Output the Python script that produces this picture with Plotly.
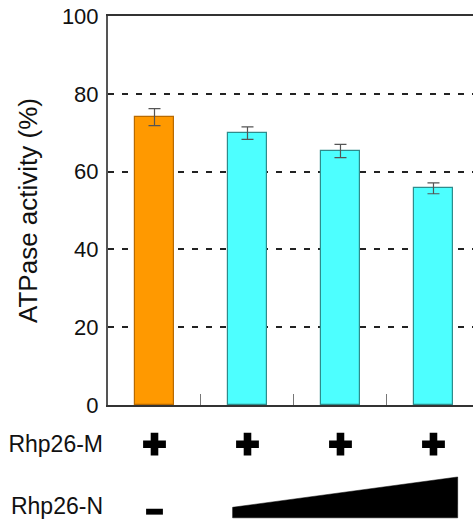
import plotly.graph_objects as go

# Data
conditions = ["1", "2", "3", "4"]
activity = [74.0, 69.9, 65.3, 55.7]
activity_err = [2.2, 1.6, 1.7, 1.4]
bar_colors = ["#FF9900", "#4DFFFF", "#4DFFFF", "#4DFFFF"]
bar_edges = ["#B86A00", "#2E8C8C", "#2E8C8C", "#2E8C8C"]
y_ticks = [0, 20, 40, 60, 80, 100]
row_labels = ["Rhp26-N", "Rhp26-M"]
rhp26_m_present = [1, 1, 1, 1]          # '+' in every lane
rhp26_n_absent_lane = [0]              # '-' lane
wedge_lanes = [0.84, 3.26]             # extent of increasing Rhp26-N
wedge_low = [-0.02, 0.47]              # wedge top edge (relative)
wedge_base = -0.19

xpos = list(range(len(conditions)))

fig = go.Figure()

fig.add_trace(go.Bar(
    x=xpos, y=activity, width=0.41,
    marker=dict(color=bar_colors, line=dict(color=bar_edges, width=1.2)),
    error_y=dict(type="data", array=activity_err, visible=True,
                 color="#555555", thickness=1.2, width=6),
    xaxis="x", yaxis="y", showlegend=False,
))

# '+' row
fig.add_trace(go.Scatter(
    x=xpos, y=rhp26_m_present, mode="markers",
    marker=dict(symbol="cross", size=19, color="black", line=dict(width=0)),
    xaxis="x", yaxis="y2", showlegend=False, hoverinfo="skip",
))
# increasing Rhp26-N wedge
fig.add_trace(go.Scatter(
    x=[wedge_lanes[0], wedge_lanes[1], wedge_lanes[1], wedge_lanes[0], wedge_lanes[0]],
    y=[wedge_base, wedge_base, wedge_low[1], wedge_low[0], wedge_base],
    mode="lines", fill="toself", fillcolor="black",
    line=dict(color="black", width=0.5),
    xaxis="x", yaxis="y2", showlegend=False, hoverinfo="skip",
))
# '-' lane
fig.add_trace(go.Scatter(
    x=rhp26_n_absent_lane, y=[-0.09], mode="markers",
    marker=dict(symbol="line-ew", size=12, line=dict(color="black", width=6)),
    xaxis="x", yaxis="y2", showlegend=False, hoverinfo="skip",
))

fig.update_layout(
    width=473, height=525,
    margin=dict(l=108, r=0, t=16, b=0),
    plot_bgcolor="white", paper_bgcolor="white",
    font=dict(family="Liberation Sans, Arial, sans-serif", color="#111111"),
    bargap=0,
    xaxis=dict(
        range=[-0.5, 3.425], anchor="y", automargin=False,
        showline=True, linecolor="#333333", linewidth=1.5, mirror=True,
        tickvals=[0.5, 1.5, 2.5], ticks="inside", ticklen=11, tickcolor="#777777",
        tickwidth=1, showticklabels=False, showgrid=False, zeroline=False,
    ),
    yaxis=dict(
        domain=[0.2358, 1], range=[0, 100], tickvals=y_ticks, automargin=False,
        showline=True, linecolor="#555555", linewidth=2,
        ticks="", tickfont=dict(size=22), ticklabelstandoff=3,
        showgrid=True, gridcolor="#222222", gridwidth=1.6, griddash="6px,8px",
        zeroline=False,
        title=dict(text="ATPase activity (%)", font=dict(size=26), standoff=17),
    ),
    yaxis2=dict(
        domain=[0, 0.2], range=[-0.306, 1.339], anchor="x", automargin=False,
        tickvals=[0, 1], ticktext=row_labels, tickfont=dict(size=23),
        ticklabelstandoff=4,
        showline=False, showgrid=False, zeroline=False, ticks="",
    ),
)

# remove the browser's default 8px body margin so the figure fills the window
fig.write_html(
    "out.html",
    config={"displayModeBar": False},
    post_script="document.body.style.margin='0';document.body.style.overflow='hidden';",
)
